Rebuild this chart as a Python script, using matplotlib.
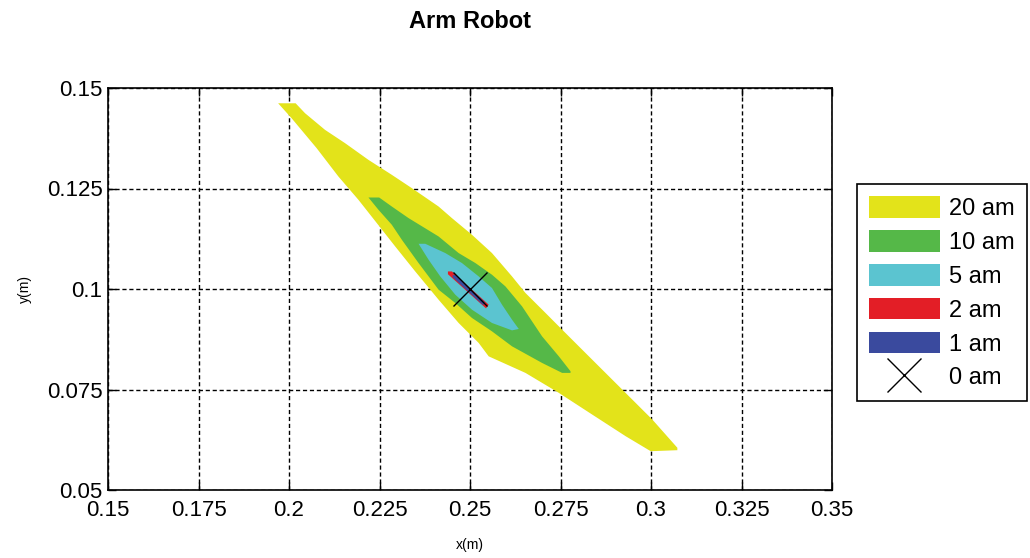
import matplotlib.pyplot as plt
from matplotlib.patches import Patch, Polygon
from matplotlib.lines import Line2D

plt.rcParams['font.family'] = ['Liberation Sans', 'DejaVu Sans']

# workspace regions (outline vertices)
yellow_x = [0.1970, 0.20183, 0.20443, 0.20996, 0.2155, 0.22195, 0.2284, 0.23393, 0.24132, 0.245,
            0.25054, 0.25607, 0.26161, 0.26532, 0.27086, 0.2773, 0.28375, 0.29206, 0.30036, 0.30728,
            0.30728, 0.29992, 0.2930, 0.28375, 0.27454, 0.26532, 0.25516, 0.2524, 0.24686, 0.24132,
            0.23487, 0.22934, 0.22425, 0.21918, 0.21365, 0.20764, 0.20072]
yellow_y = [0.1462, 0.1462, 0.14373, 0.13958, 0.13627, 0.13212, 0.1284, 0.12509, 0.12052, 0.11764,
            0.11349, 0.10894, 0.10313, 0.09901, 0.09404, 0.08822, 0.08243, 0.07498, 0.06753, 0.0605,
            0.0599, 0.05965, 0.06338, 0.06877, 0.07416, 0.07913, 0.08325, 0.08658, 0.09155, 0.09734,
            0.10437, 0.11058, 0.1164, 0.12219, 0.12798, 0.13503, 0.14248]

green_x = [0.22195, 0.22491, 0.2284, 0.23302, 0.24132, 0.24686, 0.25148, 0.25607, 0.25978, 0.26438,
           0.26991, 0.27454, 0.27777, 0.27777, 0.27545, 0.26991, 0.26161, 0.25607, 0.25054, 0.24594,
           0.24132, 0.23579, 0.23117, 0.2284, 0.22472]
green_y = [0.12276, 0.12276, 0.12052, 0.11764, 0.11307, 0.10894, 0.10646, 0.10355, 0.10065, 0.09568,
           0.08822, 0.08325, 0.07953, 0.07913, 0.07913, 0.08161, 0.08574, 0.08947, 0.0928, 0.09652,
           0.09983, 0.10646, 0.11225, 0.11598, 0.1197]

cyan_x = [0.23579, 0.23764, 0.24318, 0.24777, 0.2524, 0.25607, 0.25884, 0.26161, 0.26347, 0.26161,
          0.25607, 0.25054, 0.24594, 0.24179, 0.23856]
cyan_y = [0.11125, 0.11125, 0.10894, 0.10646, 0.10313, 0.10025, 0.0961, 0.09237, 0.09006, 0.08971,
          0.09155, 0.09486, 0.09858, 0.10313, 0.10728]

red_x = [0.2439, 0.245, 0.25516, 0.25442, 0.2439]
red_y = [0.10437, 0.10437, 0.0961, 0.09518, 0.10368]

blue_x = [0.2452, 0.24603, 0.2542, 0.25364, 0.2452]
blue_y = [0.10343, 0.10343, 0.0966, 0.09598, 0.10293]

# nominal position
x0, y0 = 0.25, 0.1

labels = ['20 am', '10 am', '5 am', '2 am', '1 am', '0 am']
colors = ['#e3e31a', '#55b848', '#5bc4d0', '#e31e26', '#3a4a9e']

xticks = [0.15, 0.175, 0.2, 0.225, 0.25, 0.275, 0.3, 0.325, 0.35]
xticklabels = ['0.15', '0.175', '0.2', '0.225', '0.25', '0.275', '0.3', '0.325', '0.35']
yticks = [0.05, 0.075, 0.1, 0.125, 0.15]
yticklabels = ['0.05', '0.075', '0.1', '0.125', '0.15']

fig = plt.figure(figsize=(10.3, 5.58), dpi=100)
ax = fig.add_axes([108 / 1030, 1 - 490 / 558, 724 / 1030, 402 / 558])

regions = [(yellow_x, yellow_y), (green_x, green_y), (cyan_x, cyan_y), (red_x, red_y), (blue_x, blue_y)]
for (xs, ys), c in zip(regions, colors):
    ax.add_patch(Polygon(list(zip(xs, ys)), closed=True, facecolor=c, edgecolor='none', zorder=2))

ax.plot([x0], [y0], marker='x', color='k', markersize=25, markeredgewidth=1.0, linestyle='none', zorder=4)

ax.set_xlim(0.15, 0.35)
ax.set_ylim(0.05, 0.15)
ax.set_xticks(xticks)
ax.set_xticklabels(xticklabels)
ax.set_yticks(yticks)
ax.set_yticklabels(yticklabels)
ax.tick_params(direction='in', top=True, right=True, length=6, width=1, labelsize=16)
ax.tick_params(axis='x', pad=7)
ax.tick_params(axis='y', pad=4)
ax.set_axisbelow(True)
ax.grid(True, color='k', linestyle=(0, (3, 2)), linewidth=1)
for s in ax.spines.values():
    s.set_linewidth(1.2)

ax.set_xlabel('x(m)', fontsize=10)
ax.xaxis.set_label_coords(0.5, -0.12)
ax.set_ylabel('y(m)', fontsize=10)
ax.yaxis.set_label_coords(-0.105, 0.5)

fig.text(0.456, 1 - 22 / 558, 'Arm Robot', fontsize=17, fontweight='bold', ha='center', va='center')

handles = [Patch(facecolor=c, edgecolor='none') for c in colors]
handles.append(Line2D([], [], marker='x', color='k', markersize=25, markeredgewidth=1.0, linestyle='none'))
leg = fig.legend(handles, labels, loc='upper left', bbox_to_anchor=(857 / 1030, 1 - 184 / 558),
                 fontsize=17, frameon=True, fancybox=False, framealpha=1, edgecolor='k',
                 borderaxespad=0, handlelength=3.0, handleheight=1.05, labelspacing=0.42,
                 handletextpad=0.4, borderpad=0.5)
leg.get_frame().set_linewidth(1.2)

fig.savefig('out.png', dpi=100)
